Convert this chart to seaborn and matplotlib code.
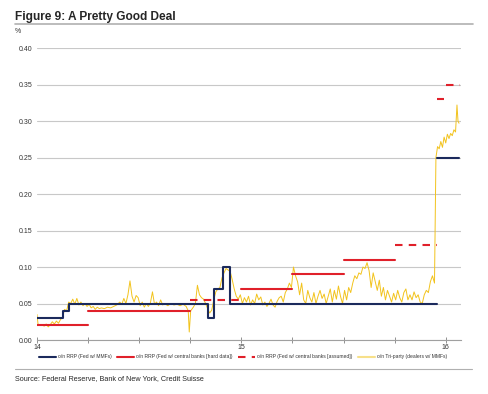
import numpy as np
import pandas as pd
import matplotlib
matplotlib.use("Agg")
import matplotlib.pyplot as plt
import seaborn as sns
from matplotlib.ticker import FixedLocator, FuncFormatter

# o/n RRP (Fed w/ MMFs): step changes (year, rate %), two pieces (before / after liftoff)
mmf_x = [14.0, 14.125, 14.155, 14.835, 14.868, 14.908, 14.945, 15.955]
mmf_y = [0.03, 0.04, 0.05, 0.03, 0.07, 0.10, 0.05, 0.05]
mmf2_x = [15.955, 16.065]
mmf2_y = [0.25, 0.25]

# o/n RRP (Fed w/ central banks): quarterly averages
hard_start = [14.0, 14.25, 15.0, 15.25, 15.5]
hard_end = [14.25, 14.75, 15.25, 15.5, 15.75]
hard_val = [0.02, 0.04, 0.07, 0.09, 0.11]

assumed_start = [14.75, 15.75, 15.955, 16.0]
assumed_end = [15.0, 15.955, 15.99, 16.07]
assumed_val = [0.055, 0.13, 0.33, 0.35]

# o/n Tri-party (dealers w/ MMFs)
tri_x = [14.000, 14.005, 14.015, 14.025, 14.035, 14.045, 14.055, 14.065, 14.075, 14.085,
         14.095, 14.105, 14.115, 14.125, 14.135, 14.145, 14.155, 14.165, 14.175, 14.185,
         14.195, 14.205, 14.215, 14.225, 14.235, 14.245, 14.255, 14.265, 14.275, 14.285,
         14.295, 14.305, 14.315, 14.330, 14.345, 14.360, 14.375, 14.390, 14.405, 14.415,
         14.425, 14.435, 14.445, 14.455, 14.465, 14.475, 14.485, 14.495, 14.505, 14.515,
         14.525, 14.535, 14.545, 14.555, 14.565, 14.575, 14.585, 14.595, 14.605, 14.615,
         14.625, 14.640, 14.655, 14.670, 14.685, 14.700, 14.715, 14.730, 14.740, 14.745,
         14.752, 14.765, 14.775, 14.785, 14.795, 14.805, 14.815, 14.825, 14.835, 14.845,
         14.855, 14.865, 14.875, 14.885, 14.895, 14.905, 14.915, 14.925, 14.935, 14.945,
         14.955, 14.965, 14.975, 14.985, 14.995, 15.005, 15.015, 15.025, 15.035, 15.045,
         15.055, 15.065, 15.075, 15.085, 15.095, 15.105, 15.115, 15.125, 15.135, 15.145,
         15.155, 15.165, 15.175, 15.185, 15.195, 15.205, 15.215, 15.225, 15.235, 15.245,
         15.255, 15.265, 15.275, 15.285, 15.295, 15.305, 15.315, 15.325, 15.335, 15.345,
         15.355, 15.365, 15.375, 15.385, 15.395, 15.405, 15.415, 15.425, 15.435, 15.445,
         15.455, 15.465, 15.475, 15.485, 15.495, 15.505, 15.515, 15.525, 15.535, 15.545,
         15.555, 15.565, 15.575, 15.585, 15.595, 15.605, 15.615, 15.625, 15.635, 15.645,
         15.655, 15.665, 15.675, 15.685, 15.695, 15.705, 15.715, 15.725, 15.735, 15.745,
         15.755, 15.765, 15.775, 15.785, 15.795, 15.805, 15.815, 15.825, 15.835, 15.845,
         15.855, 15.865, 15.875, 15.885, 15.895, 15.905, 15.915, 15.925, 15.935, 15.945,
         15.952, 15.960, 15.968, 15.976, 15.984, 15.992, 16.000, 16.008, 16.016, 16.024,
         16.032, 16.040, 16.048, 16.055, 16.060, 16.065]
tri_y = [0.035, 0.022, 0.020, 0.021, 0.019, 0.022, 0.018, 0.021, 0.025, 0.022,
         0.026, 0.023, 0.028, 0.031, 0.042, 0.040, 0.052, 0.050, 0.056, 0.049,
         0.057, 0.048, 0.052, 0.047, 0.050, 0.046, 0.049, 0.044, 0.046, 0.042,
         0.045, 0.043, 0.044, 0.043, 0.045, 0.044, 0.046, 0.048, 0.052, 0.049,
         0.057, 0.050, 0.062, 0.081, 0.060, 0.052, 0.061, 0.058, 0.047, 0.052,
         0.045, 0.050, 0.046, 0.051, 0.066, 0.049, 0.052, 0.047, 0.055, 0.048,
         0.050, 0.047, 0.050, 0.048, 0.049, 0.047, 0.049, 0.046, 0.040, 0.011,
         0.040, 0.045, 0.050, 0.075, 0.062, 0.058, 0.056, 0.050, 0.043, 0.037,
         0.041, 0.055, 0.066, 0.070, 0.072, 0.085, 0.092, 0.098, 0.096, 0.094,
         0.083, 0.070, 0.060, 0.056, 0.062, 0.050, 0.058, 0.052, 0.060, 0.048,
         0.055, 0.050, 0.063, 0.055, 0.059, 0.048, 0.052, 0.046, 0.050, 0.056,
         0.048, 0.045, 0.053, 0.058, 0.060, 0.052, 0.065, 0.070, 0.078, 0.072,
         0.100, 0.088, 0.080, 0.062, 0.078, 0.055, 0.050, 0.068, 0.058, 0.052,
         0.065, 0.050, 0.060, 0.068, 0.057, 0.063, 0.050, 0.060, 0.070, 0.052,
         0.068, 0.056, 0.074, 0.060, 0.050, 0.068, 0.055, 0.072, 0.065, 0.078,
         0.088, 0.084, 0.092, 0.090, 0.100, 0.098, 0.106, 0.095, 0.072, 0.092,
         0.080, 0.068, 0.082, 0.060, 0.072, 0.055, 0.068, 0.060, 0.052, 0.064,
         0.055, 0.068, 0.058, 0.052, 0.065, 0.070, 0.055, 0.062, 0.055, 0.066,
         0.058, 0.062, 0.052, 0.050, 0.062, 0.068, 0.065, 0.080, 0.088, 0.078,
         0.250, 0.265, 0.262, 0.272, 0.264, 0.278, 0.270, 0.282, 0.276, 0.283,
         0.280, 0.288, 0.285, 0.322, 0.300, 0.297]

labels = ["o/n RRP (Fed w/ MMFs)",
          "o/n RRP (Fed w/ central banks [hard data])",
          "o/n RRP (Fed w/ central banks [assumed])",
          "o/n Tri-party (dealers w/ MMFs)"]

NAVY = "#1b2a5c"
RED = "#e0202a"
YELLOW = "#f2c31d"
GRID = "#c8c8c8"


def segments(starts, ends, vals):
    rows = []
    for i, (s, e, v) in enumerate(zip(starts, ends, vals)):
        rows.append({"seg": i, "x": s, "y": v})
        rows.append({"seg": i, "x": e, "y": v})
    return pd.DataFrame(rows)


sns.set_theme(style="white")
plt.rcParams["font.family"] = ["Liberation Sans", "DejaVu Sans"]

fig = plt.figure(figsize=(4.88, 3.94), dpi=100)
ax = fig.add_axes([0.0758, 0.137, 0.869, 0.741])

tri = pd.DataFrame({"x": tri_x, "y": tri_y})
sns.lineplot(data=tri, x="x", y="y", ax=ax, color=YELLOW, lw=0.7, zorder=2)

mmf = pd.DataFrame({"x": mmf_x, "y": mmf_y})
sns.lineplot(data=mmf, x="x", y="y", ax=ax, color=NAVY, lw=1.5,
             drawstyle="steps-post", zorder=3)
mmf2 = pd.DataFrame({"x": mmf2_x, "y": mmf2_y})
sns.lineplot(data=mmf2, x="x", y="y", ax=ax, color=NAVY, lw=1.5, zorder=3)

sns.lineplot(data=segments(hard_start, hard_end, hard_val), x="x", y="y",
             units="seg", estimator=None, ax=ax, color=RED, lw=1.5, zorder=4)
sns.lineplot(data=segments(assumed_start, assumed_end, assumed_val), x="x", y="y",
             units="seg", estimator=None, ax=ax, color=RED, lw=1.5,
             dashes=False, linestyle=(0, (3.6, 3.0)), zorder=4)

ax.set_xlim(14.0, 16.075)
ax.set_ylim(0, 0.40)
ax.set_xlabel("")
ax.set_ylabel("")

ax.set_yticks(np.arange(0, 0.401, 0.05))
ax.yaxis.set_major_formatter(FuncFormatter(lambda v, p: f"{v:.2f}"))
ax.grid(axis="y", color=GRID, lw=0.8)
ax.grid(axis="x", visible=False)

ax.set_xticks([14, 15, 16])
ax.set_xticklabels(["14", "15", "16"])
ax.xaxis.set_minor_locator(FixedLocator([14.25, 14.5, 14.75, 15.25, 15.5, 15.75]))
ax.tick_params(axis="x", which="both", direction="inout", length=4, width=0.6,
               color="#808080", labelsize=5, pad=1, bottom=True)
ax.tick_params(axis="y", length=0, labelsize=5, pad=3, labelcolor="#333333")
ax.tick_params(axis="x", labelcolor="#333333")

for side in ["top", "right", "left"]:
    ax.spines[side].set_visible(False)
ax.spines["bottom"].set_color("#a0a0a0")
ax.spines["bottom"].set_linewidth(0.8)

# legend
handles = [
    plt.Line2D([], [], color=NAVY, lw=1.5),
    plt.Line2D([], [], color=RED, lw=1.5),
    plt.Line2D([], [], color=RED, lw=1.5, linestyle=(0, (3.6, 3.0))),
    plt.Line2D([], [], color="#f7e08a", lw=1.5),
]
fig.legend(handles, labels, loc="center", bbox_to_anchor=(0.498, 0.094), ncol=4,
           frameon=False, fontsize=3.6, handlelength=3.4, handletextpad=0.5,
           columnspacing=1.0, labelcolor="#333333")

# title, rules, notes
fig.text(0.031, 0.948, "Figure 9: A Pretty Good Deal", fontsize=8.6,
         fontweight="bold", ha="left", va="baseline")
fig.add_artist(plt.Line2D([0.031, 0.97], [0.939, 0.939], color="#b0b0b0", lw=1.2))
fig.text(0.031, 0.919, "%", fontsize=5, ha="left", va="center", color="#333333")
fig.add_artist(plt.Line2D([0.031, 0.967], [0.0635, 0.0635], color="#b0b0b0", lw=0.8))
fig.text(0.031, 0.040, "Source: Federal Reserve, Bank of New York, Credit Suisse",
         fontsize=5.2, ha="left", va="center")

fig.savefig("out.png", dpi=100)
